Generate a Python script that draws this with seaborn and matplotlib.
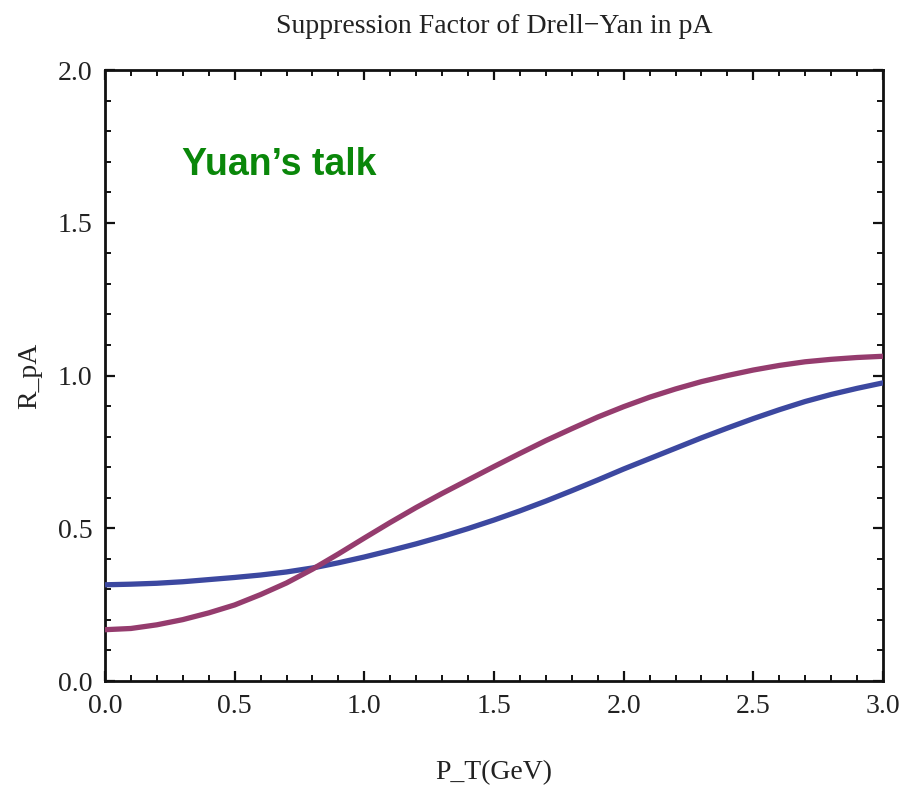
import numpy as np
import pandas as pd
import seaborn as sns
import matplotlib
matplotlib.use("Agg")
import matplotlib.pyplot as plt
from matplotlib.ticker import MultipleLocator

# Transverse momentum grid (GeV) and nuclear modification factors
pt = [0.0, 0.1, 0.2, 0.3, 0.4, 0.5, 0.6, 0.7, 0.8, 0.9,
      1.0, 1.1, 1.2, 1.3, 1.4, 1.5, 1.6, 1.7, 1.8, 1.9,
      2.0, 2.1, 2.2, 2.3, 2.4, 2.5, 2.6, 2.7, 2.8, 2.9, 3.0]
r_pa_blue = [0.315, 0.317, 0.320, 0.325, 0.332, 0.339, 0.347, 0.357, 0.370, 0.387,
             0.406, 0.427, 0.449, 0.473, 0.499, 0.527, 0.557, 0.589, 0.623, 0.658,
             0.694, 0.728, 0.762, 0.796, 0.828, 0.859, 0.888, 0.915, 0.938, 0.958, 0.976]
r_pa_purple = [0.168, 0.172, 0.184, 0.201, 0.223, 0.249, 0.283, 0.321, 0.366, 0.416,
               0.468, 0.519, 0.568, 0.614, 0.658, 0.702, 0.745, 0.787, 0.826, 0.864,
               0.898, 0.929, 0.956, 0.980, 1.000, 1.018, 1.033, 1.045, 1.053, 1.059, 1.063]

x_ticks = [0.0, 0.5, 1.0, 1.5, 2.0, 2.5, 3.0]
y_ticks = [0.0, 0.5, 1.0, 1.5, 2.0]

df = pd.DataFrame({
    "pt": pt * 2,
    "r": r_pa_blue + r_pa_purple,
    "curve": ["a"] * len(pt) + ["b"] * len(pt),
})

sns.set_theme(style="ticks")
plt.rcParams["font.family"] = ["Liberation Serif", "DejaVu Serif"]

fig = plt.figure(figsize=(9.01, 7.93), dpi=100)
ax = fig.add_axes([0.1165, 0.1412, 0.8635, 0.7705])

sns.lineplot(data=df, x="pt", y="r", hue="curve",
             palette={"a": "#3c48a0", "b": "#953c6e"},
             linewidth=3.8, legend=False, ax=ax, zorder=3)

ax.set_xlim(0, 3)
ax.set_ylim(0, 2)
ax.set_xticks(x_ticks)
ax.set_yticks(y_ticks)
ax.set_xticklabels([f"{v:.1f}" for v in x_ticks])
ax.set_yticklabels([f"{v:.1f}" for v in y_ticks])
ax.xaxis.set_minor_locator(MultipleLocator(0.1))
ax.yaxis.set_minor_locator(MultipleLocator(0.1))

for side in ["left", "right", "top", "bottom"]:
    ax.spines[side].set_visible(True)
    ax.spines[side].set_linewidth(2.0)
    ax.spines[side].set_color("#111111")

ax.tick_params(which="both", direction="in", top=True, right=True,
               color="#111111", labelsize=20, labelcolor="#222222")
ax.tick_params(which="major", length=7.5, width=1.6, pad=9)
ax.tick_params(which="minor", length=4.5, width=1.4)

ax.set_xlabel("P_T(GeV)", fontsize=20, color="#222222", labelpad=30)
ax.set_ylabel("R_pA", fontsize=20, color="#222222", labelpad=11)
ax.set_title("Suppression Factor of Drell\u2212Yan in pA", fontsize=20,
             color="#222222", pad=27)

ax.text(0.099, 0.845, "Yuan\u2019s talk", transform=ax.transAxes,
        fontsize=27, fontweight="bold", color="#0a870a",
        family=["Liberation Sans", "DejaVu Sans"], va="center", ha="left")

fig.savefig("out.png", dpi=100)
